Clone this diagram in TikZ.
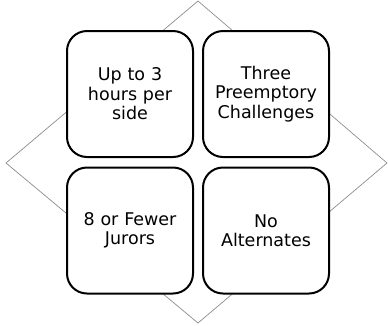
\documentclass[tikz,border=0pt]{standalone}
\usepackage{fontspec}
\setmainfont{DejaVu Sans}
\begin{document}
\begin{tikzpicture}[x=1pt,y=-1pt,
  cell/.style={draw=black, line width=2pt, rounded corners=20pt, fill=white,
    minimum width=126pt, minimum height=126pt, text width=120pt, align=center,
    inner sep=0pt, font=\fontsize{17.5}{19.5}\selectfont},
  rhomb/.style={draw=black!45, line width=0.7pt}]
\useasboundingbox (0,0) rectangle (388,325);
\coordinate (T) at (198,1);
\coordinate (R) at (387,163);
\coordinate (B) at (198,323);
\coordinate (L) at (6,163);
\draw[rhomb] (T) -- (R) -- (B) -- (L) -- cycle;
\node[cell] (a) at (130,94) {Up to 3\\hours per\\side};
\node[cell] (b) at (266,94) {Three\\Preemptory\\Challenges};
\node[cell] (c) at (130,230.5) {8 or Fewer\\Jurors};
\node[cell] (d) at (266,230.5) {No\\Alternates};
\end{tikzpicture}
\end{document}
